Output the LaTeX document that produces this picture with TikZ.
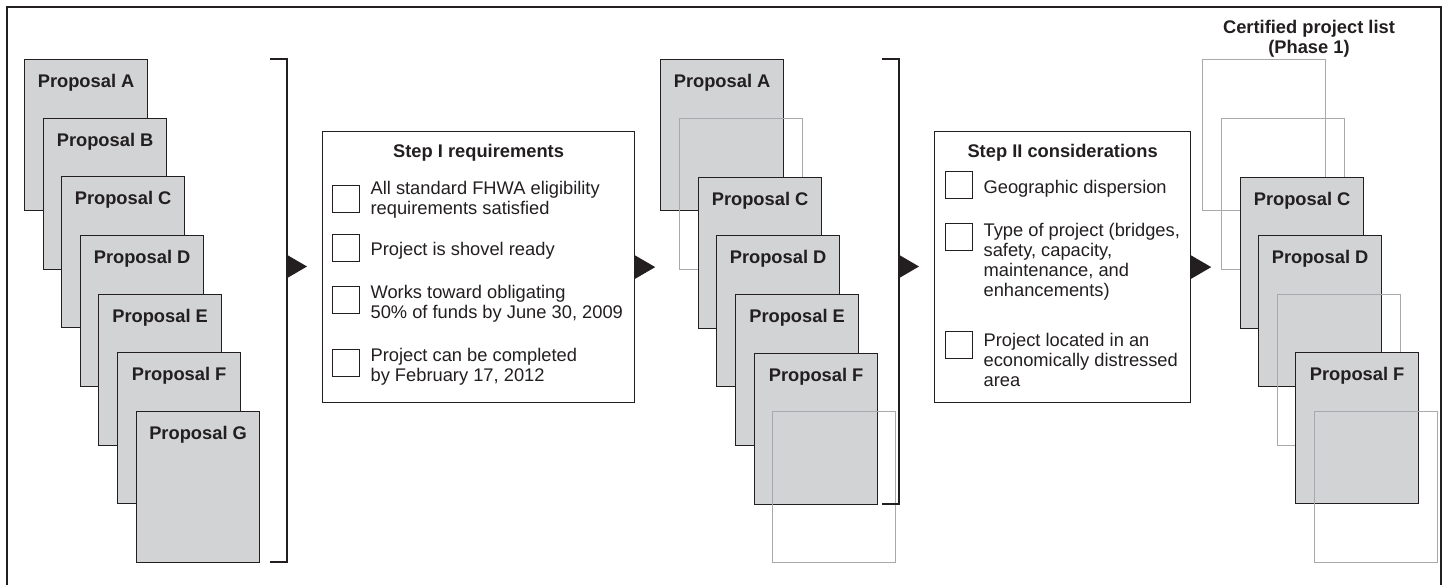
\documentclass[tikz,border=0pt]{standalone}
\usepackage{fontspec}
\setmainfont{Liberation Sans}
\usetikzlibrary{arrows.meta, positioning}
\definecolor{ink}{HTML}{231F20}
\definecolor{cardgrey}{HTML}{D1D3D4}
\definecolor{ghostgrey}{HTML}{A7A9AC}

\begin{document}
\begin{tikzpicture}[x=0.5pt, y=-0.5pt, line width=0.6pt, ink,
  card/.style={draw=ink, fill=cardgrey, anchor=north west,
               minimum width=61.5pt, inner ysep=0pt,
               text height=14pt, text depth=61.5pt,
               font=\bfseries\fontsize{9.15}{10}\selectfont},
  ghost/.style={draw=ghostgrey, anchor=north west, inner sep=0pt,
                minimum width=61.5pt, minimum height=75.5pt},
  stepbox/.style={draw=ink, fill=white, anchor=north west, inner sep=0pt,
                  minimum height=135.5pt},
  chk/.style={draw=ink, anchor=north west, minimum size=13.5pt, inner sep=0pt},
  itemtext/.style={anchor=north west, inner sep=0pt, align=left,
                   font=\fontsize{9.15}{10}\selectfont},
  head/.style={anchor=north, inner sep=0pt, align=center,
               font=\bfseries\fontsize{9.15}{10}\selectfont},
  tri/.style={-{Triangle[length=10pt, width=11.5pt]}, ink}]
  \useasboundingbox (0,0) rectangle (1447,585);
  \draw[line width=0.8pt] (7,585) |- (1441,7) -- (1441,585);

  % incoming proposals
  \node[card] (pA) at (24,59) {Proposal A};
  \node[card] (pB) at (43,118) {Proposal B};
  \node[card] (pC) at (61,176) {Proposal C};
  \node[card] (pD) at (80,235) {Proposal D};
  \node[card] (pE) at (98,294) {Proposal E};
  \node[card] (pF) at (117,352) {Proposal F};
  \node[card] (pG) at (136,411) {Proposal G};
  \draw (270,59) -| (287,562) -- (270,562);
  \coordinate (brA) at (287,266.5);

  % step I
  \node[stepbox, minimum width=156pt] (req) at (322,131) {};
  \node[head] (reqhead) at ([yshift=-6.5pt]req.north) {Step I requirements};
  \node[chk] (r1) at (332,185) {};
  \node[chk] (r2) at (332,234) {};
  \node[chk] (r3) at (332,286) {};
  \node[chk] (r4) at (332,349) {};
  \node[itemtext] (r1t) at (370,181) {All standard FHWA eligibility\\requirements satisfied};
  \node[itemtext] (r2t) at (370,242) {Project is shovel ready};
  \node[itemtext] (r3t) at (370,285) {Works toward obligating\\50\% of funds by June 30, 2009};
  \node[itemtext] (r4t) at (370,348) {Project can be completed\\by February 17, 2012};

  % after step I
  \node[card] (mA) at (660,59) {Proposal A};
  \node[ghost] (mB) at (679,118) {};
  \node[card] (mC) at (698,177) {Proposal C};
  \node[card] (mD) at (716,235) {Proposal D};
  \node[card] (mE) at (735,294) {Proposal E};
  \node[card] (mF) at (754,353) {Proposal F};
  \node[ghost] (mG) at (772,411) {};
  \draw (882,59) -| (899,504) -- (882,504);
  \coordinate (brB) at (899,266.5);

  % step II
  \node[stepbox, minimum width=128pt] (cons) at (934,131) {};
  \node[head] (conshead) at ([yshift=-6.5pt]cons.north) {Step II considerations};
  \node[chk] (c1) at (945,171) {};
  \node[chk] (c2) at (945,223) {};
  \node[chk] (c3) at (945,331) {};
  \node[itemtext] (c1t) at (983,180) {Geographic dispersion};
  \node[itemtext] (c2t) at (983,223) {Type of project (bridges,\\safety, capacity,\\maintenance, and\\enhancements)};
  \node[itemtext] (c3t) at (983,333) {Project located in an\\economically distressed\\area};

  % certified list
  \node[head] (certhead) at (1309,20) {Certified project list\\(Phase 1)};
  \node[ghost] (cA) at (1202,59) {};
  \node[ghost] (cB) at (1221,118) {};
  \node[card] (cC) at (1240,177) {Proposal C};
  \node[card] (cD) at (1258,235) {Proposal D};
  \node[ghost] (cE) at (1277,294) {};
  \node[card] (cF) at (1295,352) {Proposal F};
  \node[ghost] (cG) at (1314,411) {};

  \draw[tri] (brA) -- ++(20,0);
  \draw[tri] (req.east) -- ++(20,0);
  \draw[tri] (brB) -- ++(20,0);
  \draw[tri] (cons.east) -- ++(20,0);
\end{tikzpicture}
\end{document}
